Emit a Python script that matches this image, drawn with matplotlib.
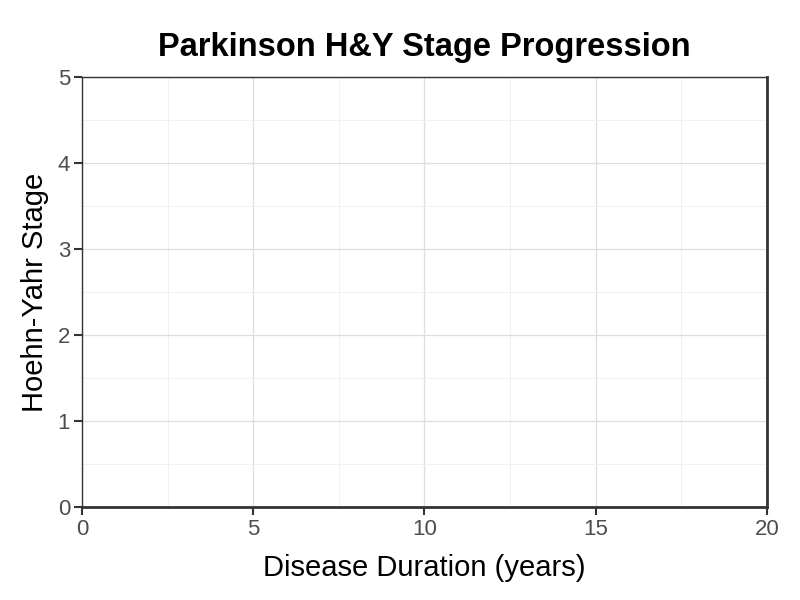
import matplotlib
matplotlib.use("Agg")
import matplotlib.pyplot as plt
from matplotlib.ticker import MultipleLocator

plt.rcParams['font.family'] = ['Liberation Sans', 'DejaVu Sans']

# Data (the reference chart shows no data marks)
duration_years = []
hy_stage = []
x_ticks = [0, 5, 10, 15, 20]
y_ticks = [0, 1, 2, 3, 4, 5]

fig = plt.figure(figsize=(8, 6), dpi=100)
ax = fig.add_axes([0.1025, 0.155, 0.856, 0.717])

ax.plot(duration_years, hy_stage)

ax.set_xlim(x_ticks[0], x_ticks[-1])
ax.set_ylim(y_ticks[0], y_ticks[-1])
ax.set_xticks(x_ticks)
ax.set_yticks(y_ticks)
ax.xaxis.set_minor_locator(MultipleLocator(2.5))
ax.yaxis.set_minor_locator(MultipleLocator(0.5))

ax.grid(which='major', color='#DEDEDE', linewidth=0.9)
ax.grid(which='minor', color='#EFEFEF', linewidth=0.6)
ax.set_axisbelow(True)

for side, lw in [('left', 1.0), ('top', 1.0), ('right', 2.0), ('bottom', 2.0)]:
    ax.spines[side].set_color('#333333')
    ax.spines[side].set_linewidth(lw)

ax.tick_params(which='major', direction='out', length=5.5, width=1.5,
               color='#333333', labelcolor='#4D4D4D', labelsize=16, pad=3)
ax.tick_params(which='minor', length=0)

ax.set_xlabel('Disease Duration (years)', fontsize=21, color='black', labelpad=10)
ax.set_ylabel('Hoehn-Yahr Stage', fontsize=21, color='black', labelpad=6)
ax.set_title('Parkinson H&Y Stage Progression', fontsize=23.5, fontweight='bold', pad=15)

fig.savefig('out.png', dpi=100)
